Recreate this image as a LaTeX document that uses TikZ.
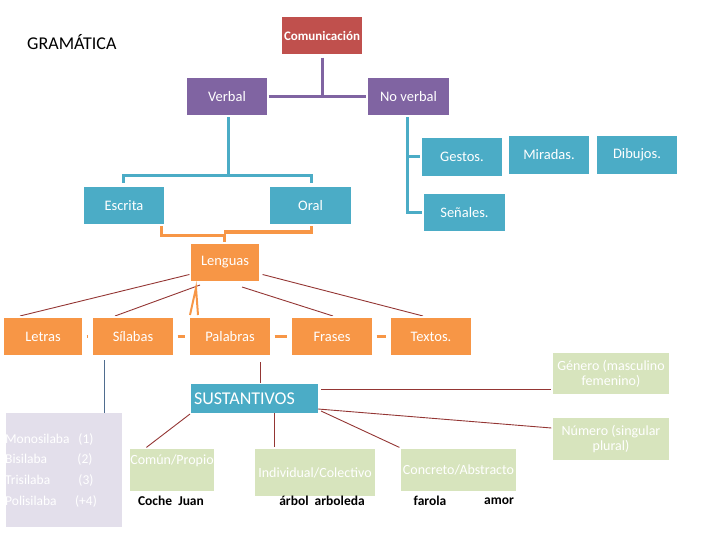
\documentclass[tikz,border=0pt]{standalone}
\usepackage{fontspec}
\setmainfont{Carlito}
\definecolor{cred}{HTML}{C0504D}
\definecolor{cpurple}{HTML}{8064A2}
\definecolor{ccyan}{HTML}{4BACC6}
\definecolor{corange}{HTML}{F79646}
\definecolor{cgreen}{HTML}{D7E4BD}
\definecolor{clav}{HTML}{E3DFEB}
\definecolor{cthin}{HTML}{943634}
\definecolor{cslate}{HTML}{4F6D8F}
\begin{document}
\begin{tikzpicture}[x=1pt,y=-1pt,
  box/.style={rectangle, inner sep=1pt, draw=white, line width=1.2pt, text=white,
    font=\fontsize{14.5}{16}\selectfont, align=center},
  rbox/.style={box, fill=cred, minimum width=82, minimum height=39},
  pbox/.style={box, fill=cpurple, minimum width=82, minimum height=39},
  cbox/.style={box, fill=ccyan, minimum width=82, minimum height=39},
  obox/.style={box, fill=corange, minimum width=82, minimum height=39},
  gbox/.style={box, fill=cgreen, font=\fontsize{14}{15}\selectfont},
  pline/.style={draw=cpurple, line width=3pt},
  cline/.style={draw=ccyan, line width=3pt},
  oline/.style={draw=corange, line width=3pt},
  tline/.style={draw=cthin, line width=0.9pt},
  sline/.style={draw=cslate, line width=0.9pt},
  lavtxt/.style={text=white, font=\fontsize{13.5}{15}\selectfont, inner sep=0pt},
  word/.style={text=black, font=\bfseries\fontsize{13.5}{15}\selectfont, inner sep=0pt}
]
\useasboundingbox (0,0) rectangle (720,540);

% title
\node[anchor=west, inner sep=0pt, font=\fontsize{18}{20}\selectfont] (gram) at (27,42) {GRAMÁTICA};

\coordinate (vb) at (228,176);

% ---------- connectors drawn first ----------
\draw[cline] (228,116) -- (vb);
\draw[cline] (123,183) |- (vb) -| (311,183);
\draw[cline] (407,116) |- (424,213);
\draw[cline] (407,157) -- (422,157);
\draw[oline] (161,225) |- (224,235) -- (224,244);
\draw[oline] (311,225) |- (224,232);

% ---------- nodes ----------
\node[rbox, font=\bfseries\fontsize{13}{15}\selectfont] (comu) at (322,35.5) {Comunicación};
\node[pbox] (verbal) at (227,96.5) {Verbal};
\node[pbox, minimum width=83] (noverbal) at (408.5,96.5) {No verbal};
\node[cbox] (escrita) at (124,205.5) {Escrita};
\node[cbox] (oral) at (310.5,205.5) {Oral};
\node[cbox, minimum height=40] (gestos) at (462,157) {Gestos.};
\node[cbox, minimum width=83] (senales) at (464.5,212.5) {Señales.};
\node[cbox, minimum height=40] (miradas) at (549,155) {Miradas.};
\node[cbox, minimum height=40] (dibujos) at (637,155) {Dibujos.};
\node[obox, minimum width=70] (lenguas) at (225,262.5) {Lenguas};

\draw[pline] ([yshift=-2pt]comu.south) -- (comu.south |- verbal.east);
\draw[pline] (verbal.east) -- (noverbal.west);

% thin lines from Lenguas
\draw[tline] ([yshift=-12pt]lenguas.west) -- (20,316);
\draw[tline] (200,285) -- (115,316);
\draw[tline] (242,287) -- (333,316);
\draw[tline] ([xshift=2pt,yshift=-12pt]lenguas.east) -- (423,316);
\draw[corange, line width=2pt] (190,315) -- (196,288) -- (198,315);

% row boxes
\node[obox, minimum width=80] (letras) at (43,336.5) {Letras};
\node[obox] (silabas) at (133,336.5) {Sílabas};
\node[obox] (palabras) at (230,336.5) {Palabras};
\node[obox] (frases) at (332,336.5) {Frases};
\node[obox] (textos) at (431,336.5) {Textos.};
\draw[oline, shorten <=3pt, shorten >=3pt] (letras.east) -- (silabas.west);
\draw[oline, shorten <=3pt, shorten >=3pt] (silabas.east) -- (palabras.west);
\draw[oline, shorten <=3pt, shorten >=3pt] (palabras.east) -- (frases.west);
\draw[oline, shorten <=3pt, shorten >=3pt] (frases.east) -- (textos.west);

% lower part
\node[rectangle, fill=clav, minimum width=116, minimum height=114, inner sep=0pt] (lav) at (64,470) {};
\node[box, fill=ccyan, minimum width=127, minimum height=29, text width=121, align=left,
      font=\fontsize{18}{20}\selectfont, draw=none] (sust) at (254.5,398.5) {SUSTANTIVOS};
\node[gbox, minimum width=118, minimum height=43] (genero) at (611,373.5) {Género (masculino\\femenino)};
\node[gbox, minimum width=118, minimum height=44] (numero) at (611,439) {Número (singular\\plural)};
\node[gbox, minimum width=86, minimum height=44] (comun) at (172,470) {Común/Propio\\[5pt]\mbox{}};
\node[gbox, minimum width=122, minimum height=49] (indiv) at (315,472.5) {Individual/Colectivo};
\node[gbox, minimum width=117, minimum height=44] (concreto) at (458.5,470) {Concreto/Abstracto};

\draw[sline] (104,360) -- (lav.north -| 104,0);
\draw[tline] (260,362) -- (sust.north -| 260,0);
\draw[tline] (321,389) -- (genero.west |- 0,389);
\draw[tline] (318,409) -- ([yshift=11pt]numero.west);
\draw[tline] (321,411) -- (concreto.north west);
\draw[tline] (274,413) -- (indiv.north -| 274,0);
\draw[tline] (190,414) -- ([xshift=18pt]comun.north west);

% lavender text
\node[lavtxt, anchor=west] (mono) at (5,439) {Monosilaba};
\node[lavtxt, anchor=west] (bisi) at (5,459) {Bisilaba};
\node[lavtxt, anchor=west] (tri) at (5,480) {Trisilaba};
\node[lavtxt, anchor=west] (poli) at (5,501) {Polisilaba};
\node[lavtxt] (n1) at (86,439) {(1)};
\node[lavtxt] (n2) at (85,459) {(2)};
\node[lavtxt] (n3) at (86,480) {(3)};
\node[lavtxt] (n4) at (86,501) {(+4)};

% example words
\node[word] (ej1) at (171,501) {Coche\ \ Juan};
\node[word] (ej2) at (322,501) {árbol\ \ arboleda};
\node[word] (ej3) at (430,501) {farola};
\node[word] (ej4) at (499,501) {amor};
\end{tikzpicture}
\end{document}
